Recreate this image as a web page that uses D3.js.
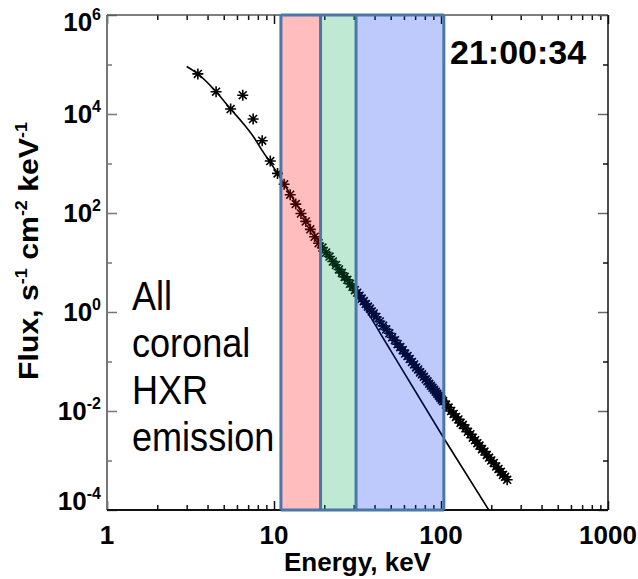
<!DOCTYPE html>
<html>
<head>
<meta charset="utf-8">
<script src="https://cdn.jsdelivr.net/npm/d3@7"></script>
<style>
  body { margin: 0; background: #fff; }
  svg text { font-family: "Liberation Sans", Arial, sans-serif; }
</style>
</head>
<body>
<div id="chart"></div>
<script>

//- Data (flux given as log10 of s^-1 cm^-2 keV^-1)
const thermalEnergy = [3.5, 4.5, 5.5, 6.5, 7.5, 8.5, 9.5, 10.5];
const thermalLogFlux = [4.81, 4.45, 4.10, 4.38, 3.90, 3.46, 3.05, 2.80];

const redEnergy = [11.5, 12.5, 13.5, 14.5, 15.5, 16.5, 17.5, 18.5];
const redLogFlux = [2.58, 2.37, 2.18, 1.99, 1.83, 1.67, 1.52, 1.39];

const greenEnergy = [19.5, 20.5, 21.5, 22.5, 23.5, 24.5, 25.5, 26.5, 27.5, 28.5, 29.5, 30.5];
const greenLogFlux = [1.30, 1.20, 1.12, 1.02, 0.95, 0.86, 0.79, 0.71, 0.65, 0.57, 0.51, 0.44];

const blueEnergy = [31.5, 32.5, 33.5, 34.5, 35.5, 36.5, 37.5, 38.5, 39.5, 41, 43, 45, 47, 49, 51, 53, 55, 57,
    59, 61, 63, 65, 67, 69, 71, 73, 75, 77, 79, 81, 83, 85, 87, 89, 91, 93, 95, 97, 99, 101, 103];
const blueLogFlux = [0.39, 0.33, 0.27, 0.22, 0.16, 0.11, 0.07, 0.01, -0.03, -0.10, -0.19, -0.28, -0.35, -0.43,
    -0.51, -0.57, -0.65, -0.71, -0.77, -0.84, -0.89, -0.95, -1.01, -1.06, -1.12, -1.16, -1.22, -1.26, -1.31,
    -1.36, -1.40, -1.45, -1.49, -1.53, -1.57, -1.61, -1.65, -1.69, -1.73, -1.77, -1.80];

const highEnergy = [107, 111, 115, 119, 123, 127, 131, 135, 140, 145, 150, 155, 160, 165, 170, 176, 182, 188,
    194, 200, 207, 214, 221, 228, 235, 242, 249];
const highLogFlux = [-1.87, -1.93, -2.00, -2.06, -2.12, -2.17, -2.24, -2.28, -2.35, -2.42, -2.47, -2.54, -2.59,
    -2.65, -2.70, -2.77, -2.82, -2.89, -2.94, -3.00, -3.05, -3.12, -3.17, -3.23, -3.29, -3.33, -3.39];

//- Fitted model curve
const fitEnergy = [3.0, 3.5, 4.5, 5.5, 6.5, 7.5, 8.5, 9.5, 10.5, 11.5, 15, 20, 31, 50, 104, 200];
const fitLogFlux = [4.96, 4.81, 4.45, 4.10, 3.82, 3.55, 3.26, 3.02, 2.80, 2.58, 1.95, 1.26, 0.36, -0.78, -2.55, -4.08];

//- Energy bands (keV)
const bandEdges = [11, 19, 31, 104];
const bandColors = ["rgba(255,0,0,0.26)", "rgba(0,168,80,0.25)", "rgba(0,44,244,0.25)"];

//- Axis ticks
const xMajor = [1, 10, 100, 1000];
const yDecades = [-4, -3, -2, -1, 0, 1, 2, 3, 4, 5, 6];
const yLabels = [-4, -2, 0, 2, 4, 6];

const timeLabel = "21:00:34";
const noteLines = ["All", "coronal", "HXR", "emission"];


const WIDTH = 638, HEIGHT = 579;
const margin = { top: 15, right: 30, bottom: 69, left: 107 };
const plotW = WIDTH - margin.left - margin.right;
const plotH = HEIGHT - margin.top - margin.bottom;

const svg = d3.select("#chart").append("svg")
    .attr("width", WIDTH)
    .attr("height", HEIGHT);

const g = svg.append("g")
    .attr("transform", `translate(${margin.left},${margin.top})`);

const xScale = d3.scaleLog().domain([1, 1000]).range([0, plotW]);
const yScale = d3.scaleLog().domain([1e-4, 1e6]).range([plotH, 0]);

g.append("clipPath").attr("id", "plotClip")
  .append("rect").attr("width", plotW).attr("height", plotH);

//-- Points (asterisks)
const points = [];
[[thermalEnergy, thermalLogFlux], [redEnergy, redLogFlux], [greenEnergy, greenLogFlux],
 [blueEnergy, blueLogFlux], [highEnergy, highLogFlux]].forEach(([es, fs]) => {
    es.forEach((e, i) => points.push({ e: e, f: Math.pow(10, fs[i]) }));
});

const r = 5.5, d = r * 0.72;
const starPath = `M${-r},0L${r},0M0,${-r}L0,${r}M${-d},${-d}L${d},${d}M${-d},${d}L${d},${-d}`;

g.append("g")
  .selectAll("path")
  .data(points)
  .enter()
  .append("path")
  .attr("transform", p => `translate(${xScale(p.e)},${yScale(p.f)})`)
  .attr("d", starPath)
  .attr("stroke", "#000")
  .attr("stroke-width", 1.6)
  .attr("fill", "none");

//-- Fit line
const fitData = fitEnergy.map((e, i) => ({ e: e, f: Math.pow(10, fitLogFlux[i]) }));
g.append("path")
  .datum(fitData)
  .attr("clip-path", "url(#plotClip)")
  .attr("d", d3.line().x(p => xScale(p.e)).y(p => yScale(p.f)).curve(d3.curveMonotoneX))
  .attr("fill", "none")
  .attr("stroke", "#000")
  .attr("stroke-width", 1.6);

//-- Axes
const minorX = [];
[1, 10, 100].forEach(dec => { for (let k = 2; k <= 9; k++) minorX.push(dec * k); });

function styleAxis(sel, color) {
    sel.select(".domain").remove();
    sel.selectAll("line").attr("stroke", color).attr("stroke-width", 1.5);
}

g.append("g").attr("transform", `translate(0,${plotH})`)
  .call(d3.axisBottom(xScale).tickValues(xMajor).tickSize(-9).tickFormat(""))
  .call(s => styleAxis(s, "#111"));
g.append("g").attr("transform", `translate(0,${plotH})`)
  .call(d3.axisBottom(xScale).tickValues(minorX).tickSize(-5).tickFormat(""))
  .call(s => styleAxis(s, "#111"));
g.append("g")
  .call(d3.axisTop(xScale).tickValues(xMajor).tickSize(-9).tickFormat(""))
  .call(s => styleAxis(s, "#111"));
g.append("g")
  .call(d3.axisTop(xScale).tickValues(minorX).tickSize(-5).tickFormat(""))
  .call(s => styleAxis(s, "#111"));

const yEven = yDecades.filter(v => v % 2 === 0).map(v => Math.pow(10, v));
const yOdd = yDecades.filter(v => v % 2 !== 0).map(v => Math.pow(10, v));

g.append("g")
  .call(d3.axisLeft(yScale).tickValues(yEven).tickSize(-10).tickFormat(""))
  .call(s => styleAxis(s, "#777"));
g.append("g")
  .call(d3.axisLeft(yScale).tickValues(yOdd).tickSize(-5).tickFormat(""))
  .call(s => styleAxis(s, "#777"));
g.append("g").attr("transform", `translate(${plotW},0)`)
  .call(d3.axisRight(yScale).tickValues(yEven).tickSize(-10).tickFormat(""))
  .call(s => styleAxis(s, "#666"));
g.append("g").attr("transform", `translate(${plotW},0)`)
  .call(d3.axisRight(yScale).tickValues(yOdd).tickSize(-5).tickFormat(""))
  .call(s => styleAxis(s, "#111"));

//- Frame
g.append("line").attr("x1", 0).attr("x2", 0).attr("y1", 0).attr("y2", plotH)
  .attr("stroke", "#777").attr("stroke-width", 2);
g.append("line").attr("x1", 0).attr("x2", plotW).attr("y1", plotH).attr("y2", plotH)
  .attr("stroke", "#111").attr("stroke-width", 2);
g.append("line").attr("x1", 0).attr("x2", plotW).attr("y1", 0).attr("y2", 0)
  .attr("stroke", "#555").attr("stroke-width", 1.5);
g.append("line").attr("x1", plotW).attr("x2", plotW).attr("y1", 0).attr("y2", plotH)
  .attr("stroke", "#111").attr("stroke-width", 1.5);

//-- Energy bands (drawn over the data, translucent)
const bands = bandColors.map((c, i) => ({ lo: bandEdges[i], hi: bandEdges[i + 1], color: c }));
g.append("g").selectAll("rect")
  .data(bands)
  .enter()
  .append("rect")
  .attr("x", b => xScale(b.lo))
  .attr("width", b => xScale(b.hi) - xScale(b.lo))
  .attr("y", 0)
  .attr("height", plotH)
  .attr("fill", b => b.color);

g.append("g").selectAll("line")
  .data(bandEdges)
  .enter()
  .append("line")
  .attr("x1", e => xScale(e)).attr("x2", e => xScale(e))
  .attr("y1", 0).attr("y2", plotH)
  .attr("stroke", "#4a77a8")
  .attr("stroke-width", 3);
g.append("g").selectAll("line")
  .data([0, plotH])
  .enter()
  .append("line")
  .attr("x1", xScale(bandEdges[0])).attr("x2", xScale(bandEdges[bandEdges.length - 1]))
  .attr("y1", y => y).attr("y2", y => y)
  .attr("stroke", "#4a77a8")
  .attr("stroke-width", 3);

//-- Tick labels
const xLabelGroup = g.append("g");
xMajor.forEach(v => {
    xLabelGroup.append("text")
      .attr("x", xScale(v))
      .attr("y", plotH + 34)
      .attr("text-anchor", "middle")
      .attr("font-size", 26)
      .attr("font-weight", "bold")
      .text(v);
});

const yLabelGroup = g.append("g");
yLabels.forEach((p, i) => {
    let yPos = yScale(Math.pow(10, p)) + 9;
    if (i === 0) yPos = plotH;               // bottom label sits above the corner
    if (i === yLabels.length - 1) yPos = 16; // top label sits below the corner
    const t = yLabelGroup.append("text")
      .attr("x", -6)
      .attr("y", yPos)
      .attr("text-anchor", "end")
      .attr("font-size", 26)
      .attr("font-weight", "bold");
    t.append("tspan").text("10");
    t.append("tspan").attr("dy", -11).attr("font-size", 16).text(p);
});

//-- Axis titles
svg.append("text")
  .attr("x", margin.left + xScale(Math.sqrt(10) * 10) - 0)
  .attr("y", 571)
  .attr("text-anchor", "middle")
  .attr("font-size", 26)
  .attr("font-weight", "bold")
  .text("Energy, keV");

const yTitle = svg.append("text")
  .attr("transform", "translate(38,251) rotate(-90) scale(1.12,1)")
  .attr("text-anchor", "middle")
  .attr("font-size", 27)
  .attr("font-weight", "bold");
yTitle.append("tspan").text("Flux, s");
yTitle.append("tspan").attr("dy", -11).attr("font-size", 16).text("-1");
yTitle.append("tspan").attr("dy", 11).text(" cm");
yTitle.append("tspan").attr("dy", -11).attr("font-size", 16).text("-2");
yTitle.append("tspan").attr("dy", 11).text(" keV");
yTitle.append("tspan").attr("dy", -11).attr("font-size", 16).text("-1");

//-- Time stamp
g.append("text")
  .attr("x", 343)
  .attr("y", 49)
  .attr("font-size", 34)
  .attr("font-weight", "bold")
  .text(timeLabel);

//-- Annotation
const note = svg.append("text")
  .attr("transform", "translate(132,0) scale(0.88,1)")
  .attr("font-family", "Lato, 'Open Sans', sans-serif")
  .attr("font-size", 41)
  .attr("fill", "#000");
noteLines.forEach((line, i) => {
    note.append("tspan")
      .attr("x", 0)
      .attr("y", 310 + i * 47)
      .text(line);
});

</script>
</body>
</html>
